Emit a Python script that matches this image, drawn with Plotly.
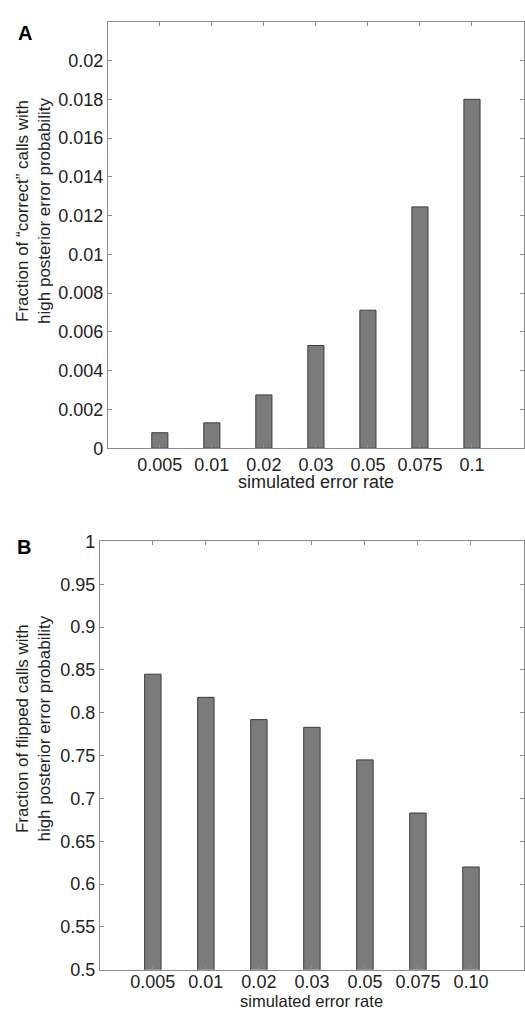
import plotly.graph_objects as go

# Data
rates_a = ["0.005", "0.01", "0.02", "0.03", "0.05", "0.075", "0.1"]
vals_a = [0.0008, 0.00131, 0.00275, 0.0053, 0.00712, 0.01245, 0.0180]
rates_b = ["0.005", "0.01", "0.02", "0.03", "0.05", "0.075", "0.10"]
vals_b = [0.845, 0.818, 0.792, 0.783, 0.745, 0.683, 0.620]
ticks_a = [0, 0.002, 0.004, 0.006, 0.008, 0.01, 0.012, 0.014, 0.016, 0.018, 0.02]
ticklabels_a = ["0", "0.002", "0.004", "0.006", "0.008", "0.01", "0.012", "0.014", "0.016", "0.018", "0.02"]
ticks_b = [0.5, 0.55, 0.6, 0.65, 0.7, 0.75, 0.8, 0.85, 0.9, 0.95, 1.0]
ticklabels_b = ["0.5", "0.55", "0.6", "0.65", "0.7", "0.75", "0.8", "0.85", "0.9", "0.95", "1"]

W, H = 525, 1021
FONT = "Liberation Sans, Arial, Helvetica, sans-serif"
TXT = "#222222"
AX = "#8c8c8c"

def px_x(p):
    return p / W

def px_y(p):
    return (H - p) / H

pos = list(range(1, 8))

fig = go.Figure()
fig.add_trace(go.Bar(x=pos, y=vals_a, width=0.31, xaxis="x", yaxis="y",
                     marker=dict(color="#7b7b7b", line=dict(color="#3c3c3c", width=1)),
                     showlegend=False))
fig.add_trace(go.Bar(x=pos, y=vals_b, width=0.31, xaxis="x2", yaxis="y2",
                     marker=dict(color="#7b7b7b", line=dict(color="#3c3c3c", width=1)),
                     showlegend=False))

common_axis = dict(showgrid=False, zeroline=False, showline=True, linecolor=AX, linewidth=1,
                   mirror="ticks", ticks="inside", ticklen=4, tickcolor=AX,
                   tickfont=dict(family=FONT, size=18, color=TXT))

fig.update_layout(
    width=W, height=H,
    margin=dict(l=0, r=0, t=0, b=0),
    paper_bgcolor="white", plot_bgcolor="white",
    font=dict(family=FONT, size=18, color=TXT),
    xaxis=dict(domain=[px_x(108), 1.0], anchor="y", range=[0, 8],
               tickvals=pos, ticktext=rates_a, **common_axis),
    yaxis=dict(domain=[px_y(447), px_y(12)], anchor="x", range=[0, 0.022],
               tickvals=ticks_a, ticktext=ticklabels_a, **common_axis),
    xaxis2=dict(domain=[px_x(100), 1.0], anchor="y2", range=[0, 8],
                tickvals=pos, ticktext=rates_b, ticklabelstandoff=-4, **common_axis),
    yaxis2=dict(domain=[px_y(979), px_y(542)], anchor="x2", range=[0.5, 1.0],
                tickvals=ticks_b, ticktext=ticklabels_b, **common_axis),
)

annos = [
    dict(text="<b>A</b>", x=px_x(25), y=px_y(23), size=20, yanchor="middle"),
    dict(text="<b>B</b>", x=px_x(24), y=px_y(548), size=20, yanchor="middle"),
    dict(text="Fraction of \u201ccorrect\u201d calls with<br>high posterior error probability",
         x=px_x(34), y=px_y(205), textangle=-90, size=17, yanchor="middle"),
    dict(text="Fraction of flipped calls with<br>high posterior error probability",
         x=px_x(34), y=px_y(733), textangle=-90, size=17, yanchor="middle"),
    dict(text="simulated error rate", x=(px_x(108) + 1) / 2, y=px_y(481), size=18, yanchor="middle"),
    dict(text="simulated error rate", x=(px_x(100) + 1) / 2, y=0.0, size=16.5, yanchor="bottom"),
]
for a in annos:
    fig.add_annotation(xref="paper", yref="paper", showarrow=False, borderpad=0,
                       xanchor="center", yanchor=a["yanchor"],
                       font=dict(family=FONT, size=a["size"], color="#000" if "<b>" in a["text"] else TXT),
                       text=a["text"], x=a["x"], y=a["y"], textangle=a.get("textangle", 0))

fig.write_html("out.html", config={"displayModeBar": False},
               post_script="document.body.style.margin='0';document.body.style.overflow='hidden';")
